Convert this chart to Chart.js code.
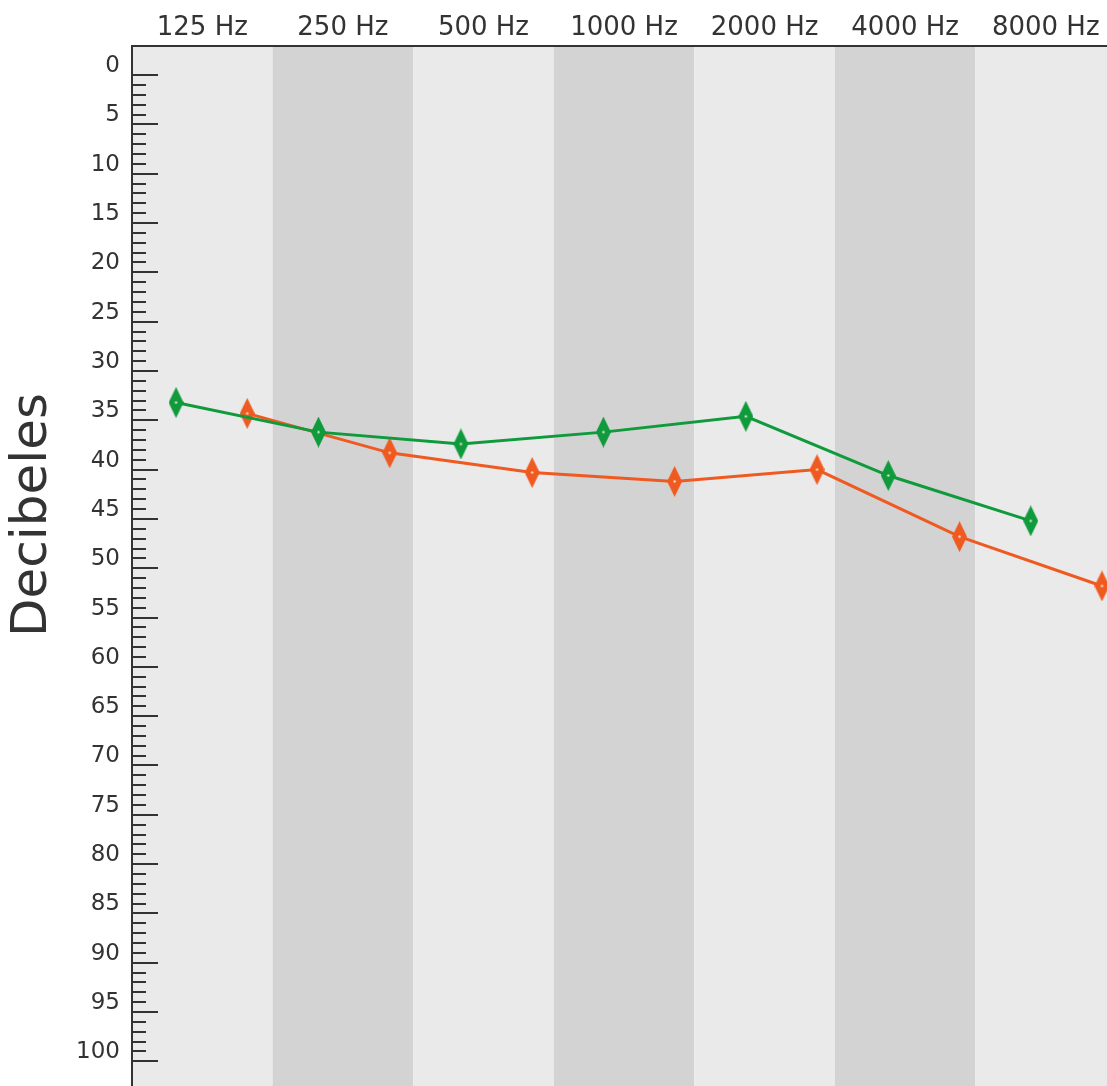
<!DOCTYPE html>
<html lang="es">
<head>
    <meta charset="UTF-8">
    <title>Audiograma</title>
    <script src="https://cdn.jsdelivr.net/npm/chart.js"></script>
    <style>
        html, body { margin: 0; padding: 0; background: #fff; overflow: hidden; }
        /* el grafico original esta recortado a la derecha y abajo */
        #wrap { width: 1107px; height: 1086px; overflow: hidden; }
        #audio { display: block; }
    </style>
</head>
<body>
    <div id="wrap"><canvas id="audio" width="1117" height="1088"></canvas></div>

    <script>
        // frecuencias (bandas de fondo y etiquetas de arriba)
        const frequencies = ['125 Hz', '250 Hz', '500 Hz', '1000 Hz', '2000 Hz', '4000 Hz', '8000 Hz'];
        // marcas del eje de decibeles
        const dbTicks = [0, 5, 10, 15, 20, 25, 30, 35, 40, 45, 50, 55, 60, 65, 70, 75, 80, 85, 90, 95, 100];
        // posicion de cada medida en el eje x (verde / naranja se alternan)
        const greenPos = [0, 2, 4, 6, 8, 10, 12];
        const redPos = [1, 3, 5, 7, 9, 11, 13];
        // valores en dB
        const greenDb = [33.2, 36.2, 37.4, 36.2, 34.6, 40.6, 45.2];
        const redDb = [34.3, 38.3, 40.3, 41.2, 40.0, 46.8, 51.8];
        const yTitle = 'Decibeles';

        const GREEN = '#0f9a3c';
        const RED = '#ef5a21';
        const INK = '#333333';
        const FONT = '"DejaVu Sans", sans-serif';

        // rombo alargado con puntito claro en el centro
        function diamond(color) {
            const c = document.createElement('canvas');
            c.width = 15; c.height = 31;
            const g = c.getContext('2d');
            g.fillStyle = color;
            g.beginPath();
            g.moveTo(7.5, 0); g.lineTo(15, 15.5); g.lineTo(7.5, 31); g.lineTo(0, 15.5);
            g.closePath();
            g.fill();
            g.fillStyle = 'rgba(255,245,220,0.85)';
            g.beginPath(); g.arc(7.5, 15.5, 1.2, 0, Math.PI * 2); g.fill();
            return c;
        }

        // bandas grises alternas detras de todo
        const bandsPlugin = {
            id: 'bands',
            beforeDraw(chart) {
                const {ctx, chartArea} = chart;
                const fx = chart.scales.freq;
                ctx.save();
                frequencies.forEach((f, i) => {
                    const a = fx.getPixelForValue(i - 0.5);
                    const b = fx.getPixelForValue(i + 0.5);
                    ctx.fillStyle = i % 2 ? '#d3d3d3' : '#eaeaea';
                    ctx.fillRect(a, chartArea.top, b - a, chartArea.bottom - chartArea.top);
                });
                ctx.restore();
            }
        };

        // rayitas del eje y hacia dentro (cada 1 dB, largas cada 5) y titulo del eje
        const ticksPlugin = {
            id: 'dbTicks',
            beforeDatasetsDraw(chart) {
                const {ctx, chartArea} = chart;
                const ys = chart.scales.y;
                ctx.save();
                ctx.strokeStyle = INK;
                ctx.lineWidth = 2;
                for (let v = 0; v <= 100; v++) {
                    const py = Math.round(ys.getPixelForValue(v));
                    const len = v % 5 === 0 ? 26 : 14;
                    ctx.beginPath();
                    ctx.moveTo(chartArea.left, py);
                    ctx.lineTo(chartArea.left + len, py);
                    ctx.stroke();
                }
                ctx.fillStyle = INK;
                ctx.font = '50px ' + FONT;
                ctx.textAlign = 'center';
                ctx.textBaseline = 'middle';
                ctx.translate(33, ys.getPixelForValue(44.6));
                ctx.rotate(-Math.PI / 2);
                ctx.fillText(yTitle, 0, 0);
                ctx.restore();
            }
        };

        const lineStyle = (color) => ({
            xAxisID: 'x',
            yAxisID: 'y',
            borderColor: color,
            borderWidth: 3,
            pointStyle: diamond(color),
            pointRadius: 1,
            pointBorderWidth: 0,
            pointHoverRadius: 1,
            clip: false
        });

        new Chart(document.getElementById('audio'), {
            type: 'line',
            data: {
                labels: frequencies,
                datasets: [
                    Object.assign({ label: 'verde', data: greenPos.map((x, i) => ({x: x, y: greenDb[i]})) }, lineStyle(GREEN)),
                    Object.assign({ label: 'naranja', data: redPos.map((x, i) => ({x: x, y: redDb[i]})) }, lineStyle(RED))
                ]
            },
            options: {
                responsive: false,
                animation: false,
                layout: { padding: 0 },
                plugins: { legend: { display: false }, tooltip: { enabled: false } },
                scales: {
                    freq: {
                        type: 'category',
                        position: 'top',
                        labels: frequencies,
                        offset: true,
                        grid: { display: false, drawTicks: false },
                        border: { display: true, color: INK, width: 2 },
                        ticks: { color: INK, font: { family: FONT, size: 26 }, padding: 2, maxRotation: 0, autoSkip: false },
                        afterFit: s => { s.height = 46; s.paddingLeft = 0; s.paddingRight = 0; }
                    },
                    x: {
                        type: 'linear',
                        display: false,
                        min: -0.618,
                        max: 13.197
                    },
                    y: {
                        type: 'linear',
                        position: 'left',
                        reverse: true,
                        min: -2.95,
                        max: 102.6,
                        afterBuildTicks: s => { s.ticks = dbTicks.map(v => ({value: v})); },
                        grid: { drawOnChartArea: false, drawTicks: false },
                        border: { display: true, color: INK, width: 2 },
                        ticks: { color: INK, font: { family: FONT, size: 23 }, padding: 12, labelOffset: -9 },
                        afterFit: s => { s.width = 132; s.paddingTop = 0; s.paddingBottom = 0; }
                    }
                }
            },
            plugins: [bandsPlugin, ticksPlugin]
        });
    </script>
</body>
</html>
